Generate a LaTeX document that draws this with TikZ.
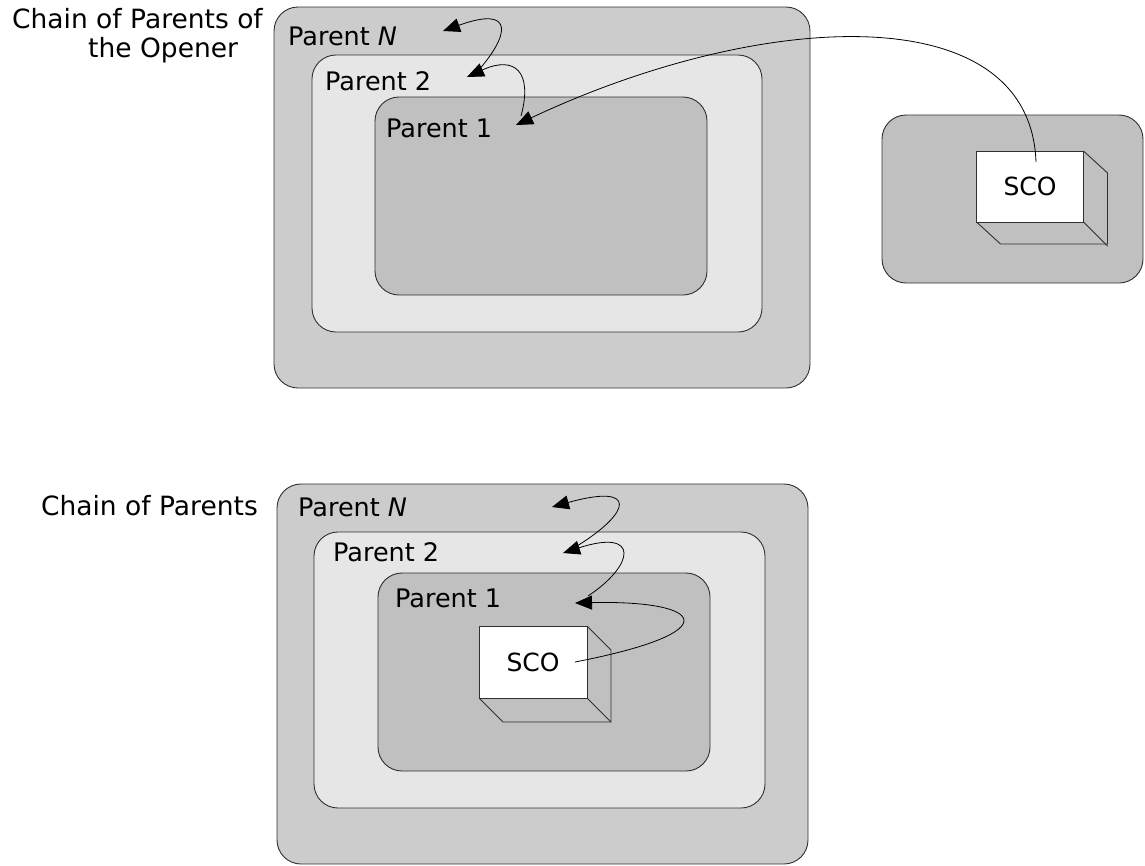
\documentclass[tikz,border=0pt]{standalone}
\usepackage{fontspec}
\setmainfont{DejaVu Sans}
\usetikzlibrary{arrows.meta}
\definecolor{outerg}{HTML}{CCCCCC}
\definecolor{midg}{HTML}{E6E6E6}
\definecolor{innerg}{HTML}{C0C0C0}
\definecolor{edge}{HTML}{303030}
\tikzset{
  box/.style={draw=edge, line width=0.9pt, rounded corners=24pt, inner sep=0pt, outer sep=0pt},
  scobox/.style={draw=edge, line width=0.9pt, fill=white, inner sep=0pt, outer sep=0pt,
    minimum width=107pt, minimum height=71pt, font=\fontsize{25}{30}\selectfont},
  lbl/.style={anchor=base west, inner sep=0pt, font=\fontsize{25.5}{30}\selectfont},
  captext/.style={inner sep=0pt, font=\fontsize{26.5}{30}\selectfont},
  side/.style={draw=edge, line width=0.9pt},
  flow/.style={draw=black, line width=0.8pt, -{Triangle[length=17pt,width=14pt]}}
}
\begin{document}
\begin{tikzpicture}[x=1pt,y=-1pt]
\useasboundingbox (0,0) rectangle (1145,865);

% ---------- top group ----------
\node[box, fill=outerg, minimum width=536pt, minimum height=381pt] (tN) at (542,197.5) {};
\node[box, fill=midg, minimum width=450pt, minimum height=277pt] (t2) at (537,193.5) {};
\node[box, fill=innerg, minimum width=332pt, minimum height=198pt] (t1) at (541,196) {};
\node[box, fill=innerg, minimum width=261pt, minimum height=168pt] (tR) at (1012.5,199) {};

\node[lbl] (tNl) at (288,45) {Parent \textit{N}};
\node[lbl] (t2l) at (325,90) {Parent 2};
\node[lbl] (t1l) at (386,137) {Parent 1};

\node[captext, anchor=base east] (tcapA) at (263,28) {Chain of Parents of};
\node[captext, anchor=base west] (tcapB) at (88,57) {the Opener};

\node[scobox] (tsco) at (1030,186.5) {SCO};
\draw[side] (tsco.north east) -- ++(24,22) -- ++(0,71) -- ++(-107,0) -- (tsco.south west);
\draw[side] (tsco.south east) -- ++(24,24);

\coordinate (tNa) at (443,31);
\coordinate (t2a) at (467,77);
\coordinate (t1a) at (516,125);
\coordinate (t2s) at (477,72);
\coordinate (t1s) at (521,116);
\coordinate (tscos) at (1036,162);

\draw[flow] (tscos) .. controls (1030,-5) and (760,10) .. (t1a);
\draw[flow] (t1s) .. controls (533,72) and (515,55) .. (t2a);
\draw[flow] (t2s) .. controls (510,35) and (515,5) .. (tNa);

% ---------- bottom group ----------
\node[box, fill=outerg, minimum width=531pt, minimum height=380pt] (bN) at (542.5,674) {};
\node[box, fill=midg, minimum width=451pt, minimum height=276pt] (b2) at (539.5,670) {};
\node[box, fill=innerg, minimum width=332pt, minimum height=198pt] (b1) at (544,672) {};

\node[lbl] (bNl) at (298,516) {Parent \textit{N}};
\node[lbl] (b2l) at (333,561) {Parent 2};
\node[lbl] (b1l) at (395,607) {Parent 1};

\node[captext, anchor=base east] (bcap) at (258,515) {Chain of Parents};

\node[scobox, minimum width=108pt, minimum height=72pt] (bsco) at (533,662) {SCO};
\draw[side] (bsco.north east) -- ++(24,24) -- ++(0,72) -- ++(-108,0) -- (bsco.south west);
\draw[side] (bsco.south east) -- ++(24,24);

\coordinate (bNa) at (552,507);
\coordinate (b2a) at (563,553);
\coordinate (b1a) at (575,603);
\coordinate (b2s) at (577,546);
\coordinate (b1s) at (588,596);
\coordinate (bscos) at (575,662);

\draw[flow] (bscos) .. controls (730,632) and (705,600) .. (b1a);
\draw[flow] (b1s) .. controls (635,565) and (640,528) .. (b2a);
\draw[flow] (b2s) .. controls (632,512) and (638,483) .. (bNa);
\end{tikzpicture}
\end{document}
